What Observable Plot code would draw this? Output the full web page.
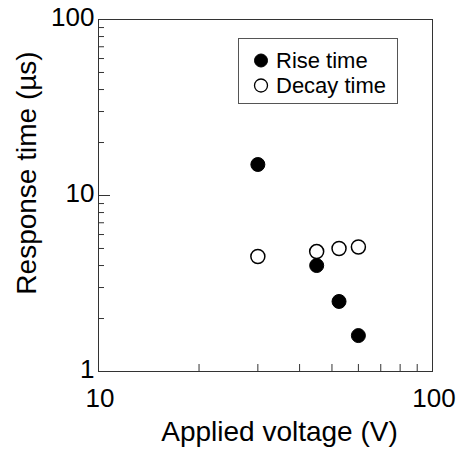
<!DOCTYPE html>
<html>
<head>
<meta charset="utf-8">
<script src="https://cdn.jsdelivr.net/npm/d3@7"></script>
<script src="https://cdn.jsdelivr.net/npm/@observablehq/plot@0.6"></script>
<style>
  html, body { margin: 0; padding: 0; background: #fff; }
  #wrap { position: relative; width: 462px; height: 449px; font-family: "Liberation Sans", Arial, sans-serif; }
  #legend { position: absolute; left: 238px; top: 38px; width: 160px; height: 66px; border: 1px solid #555; box-sizing: border-box; background: #fff; }
  #legend svg { position: absolute; left: 0; top: 0; }
</style>
</head>
<body>
<div id="wrap"></div>
<script>
// Data
const voltage = [30, 45, 52.5, 60];           // Applied voltage (V)
const riseTime = [15, 4.0, 2.5, 1.6];         // µs
const decayTime = [4.5, 4.8, 5.0, 5.1];       // µs
const seriesNames = ["Rise time", "Decay time"];
const xTickLabels = [10, 100];
const yTickLabels = [1, 10, 100];
const xMinorTicks = [20, 30, 40, 50, 60, 70, 80, 90];
const yMinorTicks = [2, 3, 4, 5, 6, 7, 8, 9, 20, 30, 40, 50, 60, 70, 80, 90];
const yMajorTicks = [10];

const rise = voltage.map((v, i) => ({v, t: riseTime[i]}));
const decay = voltage.map((v, i) => ({v, t: decayTime[i]}));

const font = "Liberation Sans, Arial, sans-serif";

const chart = Plot.plot({
  width: 462,
  height: 449,
  marginLeft: 98,
  marginRight: 30,
  marginTop: 19,
  marginBottom: 78,
  style: {fontFamily: font, background: "#fff", color: "#000"},
  x: {type: "log", domain: [10, 100]},
  y: {type: "log", domain: [1, 100]},
  marks: [
    Plot.frame({stroke: "#333", strokeWidth: 1}),
    // inward minor ticks
    Plot.axisX({ticks: xMinorTicks, tickSize: -7, text: null, label: null, stroke: "#333"}),
    Plot.axisY({ticks: yMinorTicks, tickSize: -6, text: null, label: null, stroke: "#333"}),
    Plot.axisY({ticks: yMajorTicks, tickSize: -12, text: null, label: null, stroke: "#333"}),
    // tick labels
    Plot.axisX({ticks: xTickLabels, tickSize: 0, tickPadding: 17, dx: 1.5, fontSize: 26, tickFormat: d => String(d), label: null}),
    Plot.axisY({ticks: yTickLabels, tickSize: 0, tickPadding: 4, dy: -1.5, fontSize: 26, tickFormat: d => String(d), label: null}),
    // axis titles
    Plot.text(["Applied voltage (V)"], {frameAnchor: "bottom", textAnchor: "middle", dy: 61, dx: 14, fontSize: 28, lineAnchor: "middle", fill: "#000"}),
    Plot.text(["Response time (\u00b5s)"], {frameAnchor: "left", textAnchor: "middle", rotate: -90, dx: -71, dy: -22.5, fontSize: 28, lineAnchor: "middle", fill: "#000"}),
    // data
    Plot.dot(decay, {x: "v", y: "t", r: 7, fill: "#fff", stroke: "#000", strokeWidth: 1.5}),
    Plot.dot(rise, {x: "v", y: "t", r: 7, fill: "#000", stroke: "#000", strokeWidth: 1})
  ]
});

const wrap = document.getElementById("wrap");
wrap.appendChild(chart);

// Legend
const legend = document.createElement("div");
legend.id = "legend";
const ns = "http://www.w3.org/2000/svg";
const lsvg = document.createElementNS(ns, "svg");
lsvg.setAttribute("width", 160);
lsvg.setAttribute("height", 66);
seriesNames.forEach((name, i) => {
  const c = document.createElementNS(ns, "circle");
  c.setAttribute("cx", 22);
  c.setAttribute("cy", 21.5 + i * 25);
  c.setAttribute("r", 6.5);
  c.setAttribute("fill", i === 0 ? "#000" : "#fff");
  c.setAttribute("stroke", "#000");
  c.setAttribute("stroke-width", i === 0 ? 1 : 1.3);
  lsvg.appendChild(c);
  const t = document.createElementNS(ns, "text");
  t.setAttribute("x", 37);
  t.setAttribute("y", 28.7 + i * 25);
  t.setAttribute("font-size", 22);
  t.setAttribute("font-family", font);
  t.setAttribute("fill", "#000");
  t.textContent = name;
  lsvg.appendChild(t);
});
legend.appendChild(lsvg);
wrap.appendChild(legend);
</script>
</body>
</html>
